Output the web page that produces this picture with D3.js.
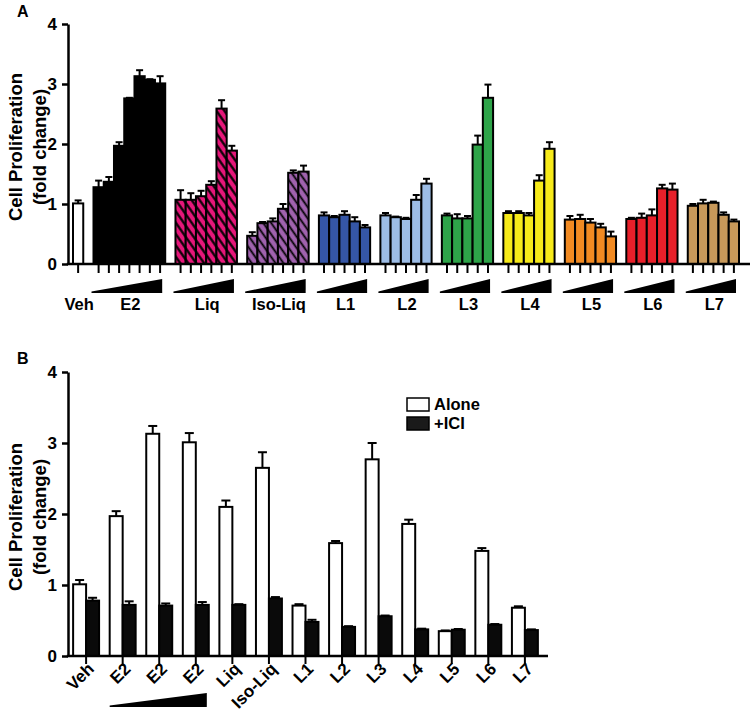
<!DOCTYPE html>
<html>
<head>
<meta charset="utf-8">
<script src="https://cdn.jsdelivr.net/npm/d3@7"></script>
<style>
  html, body { margin: 0; padding: 0; background: #fff; }
  svg { display: block; font-family: "Liberation Sans", Arial, Helvetica, sans-serif; font-weight: bold; }
</style>
</head>
<body>
<svg id="chart" width="754" height="711"></svg>
<script>
// ---------------- Panel A data ----------------
const groupsA = ['Veh','E2','Liq','Iso-Liq','L1','L2','L3','L4','L5','L6','L7'];
const valuesA = [
  [1.01],
  [1.28,1.37,1.97,2.76,3.13,3.07,3.01],
  [1.07,1.07,1.13,1.32,2.59,1.89],
  [0.47,0.68,0.71,0.92,1.52,1.54],
  [0.81,0.78,0.82,0.71,0.61],
  [0.81,0.78,0.75,1.07,1.34],
  [0.81,0.76,0.76,1.99,2.77],
  [0.85,0.85,0.81,1.39,1.92],
  [0.74,0.75,0.69,0.61,0.46],
  [0.75,0.77,0.81,1.26,1.24],
  [0.97,1.01,1.02,0.82,0.71]
];
const errorsA = [
  [0.05],
  [0.11,0.08,0.06,0.01,0.10,0.01,0.12],
  [0.16,0.11,0.09,0.06,0.14,0.08],
  [0.06,0.02,0.05,0.08,0.04,0.10],
  [0.05,0.02,0.06,0.07,0.04],
  [0.04,0.01,0.02,0.08,0.08],
  [0.03,0.07,0.04,0.15,0.22],
  [0.03,0.03,0.04,0.09,0.11],
  [0.06,0.07,0.06,0.06,0.08],
  [0.02,0.07,0.10,0.06,0.10],
  [0.03,0.06,0.02,0.04,0.03]
];
const fillsA = ['#ffffff','#000000','url(#hatchLiq)','url(#hatchIso)','#3556a6','#9dbde6','#2ea449','#f6ea1a','#f18a22','#e8202a','#c8995a'];
const yTicks = [0,1,2,3,4];

// ---------------- Panel B data ----------------
const labelsB = ['Veh','E2','E2','E2','Liq','Iso-Liq','L1','L2','L3','L4','L5','L6','L7'];
const seriesB = ['Alone','+ICI'];
const aloneB    = [1.01,1.97,3.13,3.01,2.10,2.65,0.71,1.59,2.77,1.86,0.35,1.48,0.68];
const aloneErrB = [0.06,0.07,0.11,0.13,0.09,0.22,0.02,0.03,0.23,0.06,0.01,0.04,0.02];
const iciB      = [0.78,0.72,0.71,0.72,0.72,0.81,0.48,0.41,0.56,0.375,0.37,0.44,0.365];
const iciErrB   = [0.04,0.05,0.03,0.04,0.01,0.02,0.03,0.01,0.01,0.01,0.01,0.01,0.01];
const wedgeGroupsB = [1,3]; // E2 dose range

const svg = d3.select('#chart');
const defs = svg.append('defs');
function hatch(id, bg, sw) {
  const p = defs.append('pattern').attr('id', id)
    .attr('patternUnits','userSpaceOnUse').attr('width',6.5).attr('height',6.5)
    .attr('patternTransform','rotate(-35)');
  p.append('rect').attr('width',6.5).attr('height',6.5).attr('fill',bg);
  p.append('line').attr('x1',3.25).attr('y1',-1).attr('x2',3.25).attr('y2',7.5)
    .attr('stroke','#000').attr('stroke-width',sw);
}
hatch('hatchLiq','#e6177a',2.2);
hatch('hatchIso','#a062ae',1.8);

function yTitle(g, cy) {
  g.append('text').attr('transform',`translate(22,${cy}) rotate(-90)`)
    .attr('text-anchor','middle').attr('font-size',18.5).text('Cell Proliferation');
  g.append('text').attr('transform',`translate(46,${cy}) rotate(-90)`)
    .attr('text-anchor','middle').attr('font-size',18.5).text('(fold change)');
}
function styleYAxis(sel) {
  sel.select('.domain').attr('stroke-width',2.5);
  sel.selectAll('.tick line').attr('stroke-width',2.5);
  sel.selectAll('.tick text').attr('font-size',17).attr('font-weight','bold').attr('font-family','inherit').attr('fill','#000');
}

// ================= Panel A =================
const gA = svg.append('g');
const yA = d3.scaleLinear().domain([0,4]).range([264,24]);
const slots = [];
const bars = [];
groupsA.forEach((g, gi) => {
  if (gi > 0) slots.push('gap' + gi);
  valuesA[gi].forEach((v, vi) => {
    const key = gi + '-' + vi;
    slots.push(key);
    bars.push({key, gi, vi, v, e: errorsA[gi][vi]});
  });
});
const xA = d3.scaleBand().domain(slots).range([73,739]).padding(0);
const bw = xA.bandwidth();

gA.append('text').attr('x',17).attr('y',17).attr('font-size',16).text('A');
yTitle(gA, (yA(0)+yA(4))/2 + 3);

// error bars
const errA = gA.append('g').attr('stroke','#000').attr('stroke-width',2);
bars.forEach(b => {
  const cx = xA(b.key) + bw/2;
  errA.append('line').attr('x1',cx).attr('x2',cx).attr('y1',yA(b.v)).attr('y2',yA(b.v + b.e));
  errA.append('line').attr('x1',cx-3.5).attr('x2',cx+3.5).attr('y1',yA(b.v + b.e)).attr('y2',yA(b.v + b.e));
});
// bars
gA.append('g').selectAll('rect').data(bars).join('rect')
  .attr('x', d => xA(d.key)).attr('width', bw)
  .attr('y', d => yA(d.v)).attr('height', d => yA(0) - yA(d.v))
  .attr('fill', d => fillsA[d.gi]).attr('stroke','#000').attr('stroke-width',2);

// x ticks
const xAxA = gA.append('g').attr('transform',`translate(0,${yA(0)})`)
  .call(d3.axisBottom(xA).tickValues(bars.map(b => b.key)).tickSize(9).tickSizeOuter(0).tickFormat(''));
xAxA.select('.domain').remove();
xAxA.selectAll('.tick line').attr('stroke-width',2);
gA.append('line').attr('x1',66.8).attr('x2',750).attr('y1',yA(0)).attr('y2',yA(0))
  .attr('stroke','#000').attr('stroke-width',2.5);
// y axis
const yAxA = gA.append('g').attr('transform','translate(68,0)')
  .call(d3.axisLeft(yA).tickValues(yTicks).tickSize(6).tickPadding(5).tickSizeOuter(0).tickFormat(d3.format('d')));
styleYAxis(yAxA);

// wedges + group labels
groupsA.forEach((g, gi) => {
  const first = xA(gi + '-0');
  const last = xA(gi + '-' + (valuesA[gi].length - 1)) + bw;
  if (gi > 0) {
    const x0 = first - 2, x1 = last - 3;
    gA.append('path').attr('d', `M${x0},293L${x0},291.5L${x1},279L${x1},293Z`).attr('fill','#000');
  }
  gA.append('text').attr('x',(first+last)/2 + 1).attr('y',310).attr('text-anchor','middle')
    .attr('font-size',16.5).text(g);
});

// ================= Panel B =================
const gB = svg.append('g');
const yB = d3.scaleLinear().domain([0,4]).range([656,372]);
const xB = d3.scaleBand().domain(d3.range(labelsB.length)).range([68,543]).paddingInner(0.29).paddingOuter(0.14);
const xSub = d3.scaleBand().domain(seriesB).range([0, xB.bandwidth()]);
const sbw = xSub.bandwidth();

gB.append('text').attr('x',17).attr('y',364).attr('font-size',16).text('B');
yTitle(gB, (yB(0)+yB(4))/2 + 3);

const dataB = [];
labelsB.forEach((l, i) => {
  dataB.push({i, s:'Alone', v: aloneB[i], e: aloneErrB[i]});
  dataB.push({i, s:'+ICI', v: iciB[i], e: iciErrB[i]});
});
const errB = gB.append('g').attr('stroke','#000').attr('stroke-width',2);
dataB.forEach(d => {
  const cx = xB(d.i) + xSub(d.s) + sbw/2;
  errB.append('line').attr('x1',cx).attr('x2',cx).attr('y1',yB(d.v)).attr('y2',yB(d.v + d.e));
  errB.append('line').attr('x1',cx-4.5).attr('x2',cx+4.5).attr('y1',yB(d.v + d.e)).attr('y2',yB(d.v + d.e));
});
gB.append('g').selectAll('rect').data(dataB).join('rect')
  .attr('x', d => xB(d.i) + xSub(d.s)).attr('width', sbw)
  .attr('y', d => yB(d.v)).attr('height', d => yB(0) - yB(d.v))
  .attr('fill', d => d.s === 'Alone' ? '#fff' : '#0a0a0a')
  .attr('stroke','#000').attr('stroke-width',2);

const xAxB = gB.append('g').attr('transform',`translate(0,${yB(0)})`)
  .call(d3.axisBottom(xB).tickSize(8).tickSizeOuter(0).tickFormat(''));
xAxB.select('.domain').remove();
xAxB.selectAll('.tick line').attr('stroke-width',2);
gB.append('line').attr('x1',66.8).attr('x2',548).attr('y1',yB(0)).attr('y2',yB(0))
  .attr('stroke','#000').attr('stroke-width',2.5);
const yAxB = gB.append('g').attr('transform','translate(68,0)')
  .call(d3.axisLeft(yB).tickValues(yTicks).tickSize(6).tickPadding(5).tickSizeOuter(0).tickFormat(d3.format('d')));
styleYAxis(yAxB);

// rotated labels
labelsB.forEach((l, i) => {
  const cx = xB(i) + xB.bandwidth()/2;
  gB.append('text').attr('transform',`translate(${cx+9},${yB(0)+14}) rotate(-45)`)
    .attr('text-anchor','end').attr('font-size',17).text(l);
});
// wedge under E2 doses
{
  const x0 = xB(wedgeGroupsB[0]) , x1 = xB(wedgeGroupsB[1]) + xB.bandwidth() - 2;
  gB.append('path').attr('d', `M${x0},707L${x0},705.5L${x1},693L${x1},707Z`).attr('fill','#000');
}
// legend
const lg = gB.append('g').attr('transform','translate(407,398)');
seriesB.forEach((s, i) => {
  lg.append('rect').attr('x',0).attr('y',i*19).attr('width',22).attr('height',13)
    .attr('fill', s === 'Alone' ? '#fff' : '#1a1a1a').attr('stroke','#000').attr('stroke-width',1.5);
  lg.append('text').attr('x',27).attr('y',i*19 + 12).attr('font-size',16.5).text(s);
});
</script>
</body>
</html>
